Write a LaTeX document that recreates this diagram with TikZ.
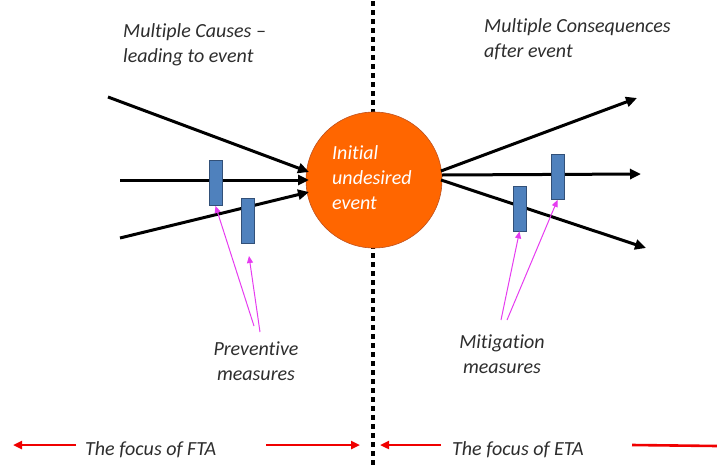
\documentclass[tikz,border=0pt]{standalone}
\usepackage{fontspec}
\setmainfont{Carlito}[Ligatures=NoCommon]
\usetikzlibrary{arrows.meta}
\definecolor{txt}{RGB}{45,45,45}
\definecolor{evorange}{RGB}{255,102,0}
\definecolor{evedge}{RGB}{190,80,30}
\definecolor{barblue}{RGB}{79,129,189}
\definecolor{baredge}{RGB}{50,80,120}
\definecolor{mag}{RGB}{230,60,240}
\definecolor{redarr}{RGB}{240,0,0}
\tikzset{
  lbl/.style={font=\fontsize{20}{25}\selectfont\itshape, text=txt, inner sep=0pt},
  evtxt/.style={font=\fontsize{20}{25}\selectfont\itshape, text=white, inner sep=0pt, anchor=base west},
  flow/.style={line width=3pt, black, -{Triangle[length=11pt,width=10pt]}},
  bar/.style={draw=baredge, fill=barblue, line width=0.8pt, minimum width=13pt, minimum height=45pt, inner sep=0pt},
  pointer/.style={draw=mag, line width=1pt, -{Triangle[length=7pt,width=6pt]}},
  focus/.style={draw=redarr, line width=2.6pt, -{Triangle[length=9pt,width=8pt]}},
  focusplain/.style={draw=redarr, line width=2.6pt},
  divider/.style={line width=4.5pt, dash pattern=on 4.5pt off 4.5pt}
}
\begin{document}
\begin{tikzpicture}[x=1pt,y=-1pt]
\useasboundingbox (0,0) rectangle (717,469);
% divider
\coordinate (dtop) at (373,1);
\coordinate (dbot) at (373,469);
\draw[divider] (dtop) -- (dbot);
% event circle
\node[circle, fill=evorange, draw=evedge, line width=0.6pt, minimum size=136pt, inner sep=0pt] (ev) at (374,180) {};
\node[evtxt] (ev1) at (332,159) {Initial};
\node[evtxt] (ev2) at (332,184) {undesired};
\node[evtxt] (ev3) at (332,209) {event};
% causes
\coordinate (s1) at (108,97);
\coordinate (s2) at (120,180);
\coordinate (s3) at (120,238);
\coordinate (e1) at (309,172);
\coordinate (e2) at (309,180);
\coordinate (e3) at (309,192);
\draw[flow] (s1) -- (e1);
\draw[flow] (s2) -- (e2);
\draw[flow] (s3) -- (e3);
% consequences
\coordinate (r1) at (441,171);
\coordinate (r2) at (442,175);
\coordinate (r3) at (441,180);
\coordinate (t1) at (637,98);
\coordinate (t2) at (641,174);
\coordinate (t3) at (646,248);
\draw[flow] (r1) -- (t1);
\draw[flow] (r2) -- (t2);
\draw[flow] (r3) -- (t3);
% barriers
\node[bar] (b1) at (215.5,183) {};
\node[bar] (b2) at (247.5,221) {};
\node[bar] (b3) at (519.5,208.5) {};
\node[bar] (b4) at (557.5,177) {};
% pointers
\coordinate (p1) at (254,326);
\coordinate (p2) at (260,332);
\coordinate (p3) at (501,320);
\coordinate (p4) at (507,320);
\coordinate (q2) at (249,256);
\draw[pointer] (p1) -- (b1.south);
\draw[pointer] (p2) -- (q2);
\draw[pointer] (p3) -- (b3.south);
\draw[pointer] (p4) -- (b4.south);
% labels
\node[lbl, anchor=base west] (c1) at (123,37) {Multiple Causes –};
\node[lbl, anchor=base west] (c2) at (123,62) {leading to event};
\node[lbl, anchor=base west] (k1) at (484,32) {Multiple Consequences};
\node[lbl, anchor=base west] (k2) at (484,57) {after event};
\node[lbl, anchor=base] (pv1) at (256,355) {Preventive};
\node[lbl, anchor=base] (pv2) at (256,380) {measures};
\node[lbl, anchor=base] (mt1) at (502,348) {Mitigation};
\node[lbl, anchor=base] (mt2) at (502,373) {measures};
% bottom focus
\node[lbl, anchor=base west] (fta) at (85,455) {The focus of FTA};
\node[lbl, anchor=base west] (eta) at (452,455) {The focus of ETA};
\coordinate (f1a) at (76,445);
\coordinate (f1b) at (13,445);
\coordinate (f2a) at (266,445);
\coordinate (f2b) at (360,445);
\coordinate (f3a) at (441,445);
\coordinate (f3b) at (380,445);
\coordinate (f4a) at (632,445);
\coordinate (f4b) at (717,446);
\draw[focus] (f1a) -- (f1b);
\draw[focus] (f2a) -- (f2b);
\draw[focus] (f3a) -- (f3b);
\draw[focusplain] (f4a) -- (f4b);
\end{tikzpicture}
\end{document}
